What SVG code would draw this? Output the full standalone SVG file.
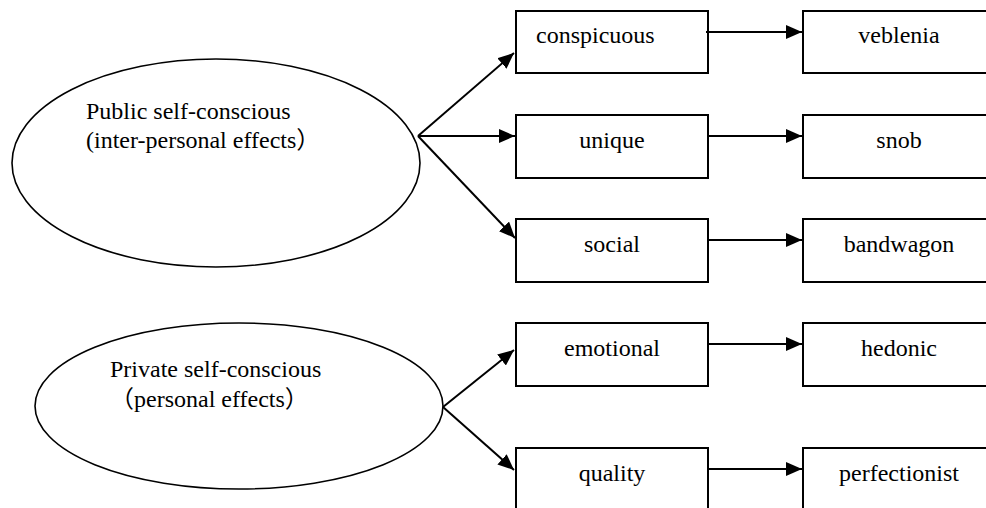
<svg xmlns="http://www.w3.org/2000/svg" width="986" height="508" viewBox="0 0 986 508">
<defs>
<marker id="ah" markerWidth="16" markerHeight="14" refX="16" refY="7" orient="auto" markerUnits="userSpaceOnUse">
<path d="M0,0 L16,7 L0,14 Z" fill="#000"/>
</marker>
<style>
.t{font-family:"Liberation Serif","Noto Sans CJK SC",serif;font-size:24px;fill:#000}
.c{text-anchor:middle}
.b{fill:#fff;stroke:#000;stroke-width:2}
.e{fill:#fff;stroke:#000;stroke-width:1.6}
.l{stroke:#000;stroke-width:2;fill:none;marker-end:url(#ah)}
</style>
</defs>
<rect width="986" height="508" fill="#fff"/>
<g id="public">
<ellipse class="e" cx="216" cy="163" rx="204" ry="104"/>
<text class="t" x="86" y="119">Public self-conscious</text>
<text class="t" x="86" y="148">(inter-personal effects）</text>
</g>
<g id="private">
<ellipse class="e" cx="239" cy="406" rx="204" ry="83"/>
<text class="t" x="110" y="377">Private self-conscious</text>
<text class="t" x="110" y="407">（personal effects）</text>
</g>
<g id="conspicuous"><rect class="b" x="516" y="11" width="192" height="62"/><text class="t" x="536" y="43">conspicuous</text></g>
<g id="unique"><rect class="b" x="516" y="115" width="192" height="63"/><text class="t c" x="612" y="148">unique</text></g>
<g id="social"><rect class="b" x="516" y="219" width="192" height="63"/><text class="t c" x="612" y="252">social</text></g>
<g id="emotional"><rect class="b" x="516" y="323" width="192" height="63"/><text class="t c" x="612" y="356">emotional</text></g>
<g id="quality"><rect class="b" x="516" y="448" width="192" height="63"/><text class="t c" x="612" y="481">quality</text></g>
<g id="veblenia"><rect class="b" x="803" y="11" width="192" height="62"/><text class="t c" x="899" y="43">veblenia</text></g>
<g id="snob"><rect class="b" x="803" y="115" width="192" height="63"/><text class="t c" x="899" y="148">snob</text></g>
<g id="bandwagon"><rect class="b" x="803" y="219" width="192" height="63"/><text class="t c" x="899" y="252">bandwagon</text></g>
<g id="hedonic"><rect class="b" x="803" y="323" width="192" height="63"/><text class="t c" x="899" y="356">hedonic</text></g>
<g id="perfectionist"><rect class="b" x="803" y="448" width="192" height="63"/><text class="t c" x="899" y="481">perfectionist</text></g>
<g id="connectors">
<line class="l" x1="418" y1="136" x2="514" y2="53"/>
<line class="l" x1="418" y1="136" x2="515" y2="136"/>
<line class="l" x1="418" y1="136" x2="515" y2="238"/>
<line class="l" x1="443" y1="407" x2="514" y2="350"/>
<line class="l" x1="443" y1="407" x2="514" y2="470"/>
<line class="l" x1="706" y1="32" x2="802" y2="32"/>
<line class="l" x1="708" y1="136" x2="802" y2="136"/>
<line class="l" x1="708" y1="240" x2="802" y2="240"/>
<line class="l" x1="708" y1="344" x2="802" y2="344"/>
<line class="l" x1="708" y1="469" x2="802" y2="469"/>
</g>
</svg>
